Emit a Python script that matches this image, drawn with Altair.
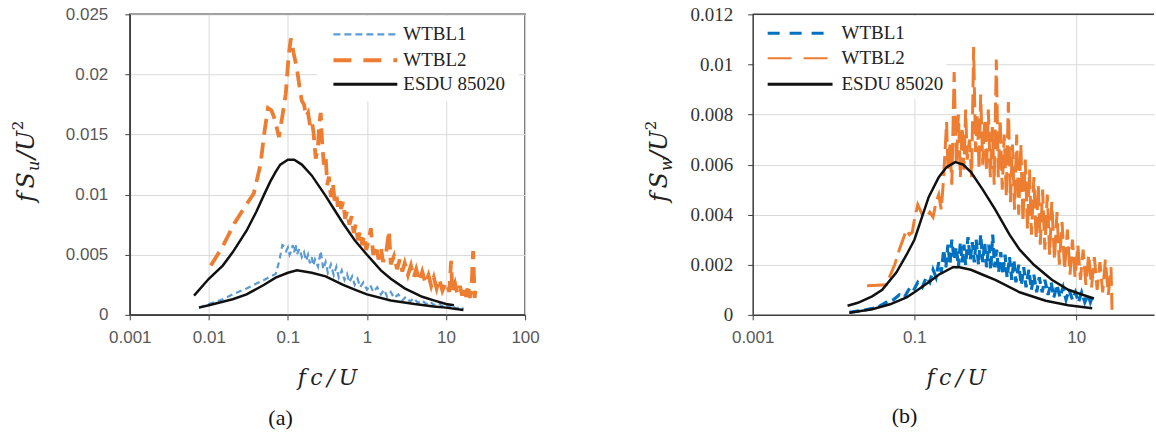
import altair as alt
import pandas as pd

# ---------------- panel (a): fS_u / U^2 ----------------
a_esdu_hi_x = [0.0065, 0.01, 0.015, 0.02, 0.03, 0.04, 0.05, 0.06, 0.07, 0.08, 0.1, 0.12, 0.15, 0.2, 0.3, 0.4,
               0.5, 0.7, 1.0, 1.5, 2.0, 3.0, 5.0, 7.0, 10, 12.6]
a_esdu_hi_y = [0.0016, 0.0030, 0.0041, 0.0052, 0.0070, 0.0086, 0.0100, 0.0111, 0.0119, 0.0125, 0.0129, 0.0129,
               0.0125, 0.0116, 0.0099, 0.0086, 0.0076, 0.0062, 0.0050, 0.0037, 0.0030, 0.0022, 0.0015, 0.0012,
               0.0009, 0.0008]
a_esdu_lo_x = [0.0075, 0.01, 0.02, 0.03, 0.05, 0.07, 0.1, 0.13, 0.2, 0.3, 0.5, 0.7, 1.0, 2.0, 4.0, 7.0, 10, 16.6]
a_esdu_lo_y = [0.0006, 0.0008, 0.0013, 0.0017, 0.0025, 0.0031, 0.0035, 0.0037, 0.0035, 0.0032, 0.0025, 0.0021,
               0.0017, 0.0012, 0.0009, 0.0007, 0.0006, 0.0004]
a_w1_x = [0.0075, 0.01, 0.015, 0.02, 0.03, 0.04, 0.05, 0.06, 0.07, 0.078, 0.085, 0.09, 0.095, 0.10, 0.105, 0.11,
          0.115, 0.12, 0.125, 0.13, 0.14, 0.15, 0.16, 0.17, 0.18, 0.19, 0.20, 0.21, 0.22, 0.24, 0.26, 0.28, 0.30,
          0.32, 0.35, 0.38, 0.41, 0.44, 0.48, 0.52, 0.56, 0.60, 0.65, 0.70, 0.76, 0.82, 0.9, 1.0, 1.1, 1.2, 1.35,
          1.5, 1.65, 1.8, 2.0, 2.2, 2.5, 2.8, 3.1, 3.5, 3.9, 4.4, 5.0, 5.6, 6.3, 7.0, 8.0, 9.0, 10, 11, 12, 13.5,
          15, 16.6]
a_w1_y = [0.0006, 0.0009, 0.0013, 0.0017, 0.0022, 0.0026, 0.0029, 0.0032, 0.0034, 0.0045, 0.0058, 0.0057, 0.0053,
          0.0056, 0.0050, 0.0053, 0.0058, 0.0052, 0.0059, 0.0050, 0.0055, 0.0048, 0.0052, 0.0045, 0.0050, 0.0043,
          0.0048, 0.0041, 0.0046, 0.0040, 0.0053, 0.0038, 0.0044, 0.0035, 0.0042, 0.0033, 0.0040, 0.0031, 0.0037,
          0.0029, 0.0034, 0.0027, 0.0032, 0.0025, 0.0030, 0.0023, 0.0027, 0.0021, 0.0025, 0.0019, 0.0023, 0.0017,
          0.0021, 0.0015, 0.0019, 0.0014, 0.0017, 0.0012, 0.0015, 0.0011, 0.0014, 0.0010, 0.0012, 0.0009, 0.0011,
          0.0008, 0.0010, 0.0007, 0.0009, 0.0006, 0.0008, 0.0005, 0.0007, 0.0005]
a_w2_x = [0.0106, 0.015, 0.021, 0.028, 0.037, 0.045, 0.050, 0.056, 0.062, 0.068, 0.077, 0.085, 0.094, 0.102, 0.109,
          0.118, 0.130, 0.140, 0.150, 0.160, 0.170, 0.180, 0.190, 0.200, 0.210, 0.225, 0.240, 0.250, 0.260, 0.270,
          0.285, 0.300, 0.315, 0.330, 0.350, 0.370, 0.390, 0.410, 0.430, 0.450, 0.470, 0.500, 0.530, 0.560, 0.600,
          0.640, 0.680, 0.720, 0.770, 0.820, 0.870, 0.920, 0.980, 1.05, 1.12, 1.20, 1.30, 1.40, 1.50, 1.60, 1.75,
          1.90, 2.00, 2.2, 2.4, 2.6, 2.8, 3.0, 3.3, 3.6, 3.9, 4.2, 4.6, 5.0, 5.5, 6.0, 6.5, 7.0, 7.6, 8.2, 9.0,
          10, 11, 11.6, 12, 13, 14, 15, 16, 17, 18, 19, 20, 21, 22, 23, 23.5]
a_w2_y = [0.0041, 0.0057, 0.0076, 0.0089, 0.0101, 0.0125, 0.0150, 0.0172, 0.0170, 0.0163, 0.0148, 0.0165, 0.0184,
          0.0215, 0.0230, 0.0218, 0.0205, 0.0190, 0.0178, 0.0175, 0.0165, 0.0168, 0.0158, 0.0162, 0.0153, 0.0130,
          0.0140, 0.0160, 0.0168, 0.0145, 0.0125, 0.0132, 0.0108, 0.0115, 0.0098, 0.0110, 0.0095, 0.0100, 0.0090,
          0.0098, 0.0088, 0.0094, 0.0080, 0.0086, 0.0075, 0.0082, 0.0068, 0.0075, 0.0062, 0.0070, 0.0058, 0.0066,
          0.0054, 0.0062, 0.0072, 0.0050, 0.0058, 0.0046, 0.0056, 0.0044, 0.0052, 0.0070, 0.0042, 0.0049, 0.0038,
          0.0046, 0.0036, 0.0043, 0.0033, 0.0041, 0.0031, 0.0038, 0.0028, 0.0036, 0.0026, 0.0033, 0.0024, 0.0031,
          0.0022, 0.0030, 0.0020, 0.0027, 0.0019, 0.0045, 0.0018, 0.0026, 0.0017, 0.0024, 0.0016, 0.0023, 0.0015,
          0.0025, 0.0014, 0.0022, 0.0053, 0.0014, 0.0020]

# ---------------- panel (b): fS_w / U^2 ----------------
b_esdu_hi_x = [0.0149, 0.02, 0.03, 0.04, 0.06, 0.08, 0.1, 0.15, 0.2, 0.25, 0.32, 0.4, 0.5, 0.7, 1.0, 1.5, 2.0,
               3.0, 5.0, 8.0, 12, 16.6]
b_esdu_hi_y = [0.00036, 0.00048, 0.00074, 0.00100, 0.0017, 0.0024, 0.0030, 0.0047, 0.0055, 0.0059, 0.0061,
               0.0060, 0.0057, 0.0050, 0.0042, 0.0032, 0.0026, 0.0020, 0.0014, 0.0010, 0.0008, 0.00065]
b_esdu_lo_x = [0.0157, 0.03, 0.05, 0.08, 0.1, 0.15, 0.2, 0.3, 0.36, 0.5, 0.7, 1.0, 2.0, 4.2, 8, 15.8]
b_esdu_lo_y = [0.00008, 0.00022, 0.00042, 0.00070, 0.00090, 0.0013, 0.0016, 0.0019, 0.0019, 0.0018, 0.0016,
               0.0014, 0.0009, 0.00056, 0.00038, 0.00026]
b_w1_x = [0.0157, 0.025, 0.035, 0.045, 0.055, 0.065, 0.075, 0.085, 0.095, 0.11, 0.125, 0.14, 0.155, 0.17, 0.185,
          0.20, 0.215, 0.23, 0.245, 0.26, 0.275, 0.29, 0.31, 0.33, 0.35, 0.37, 0.39, 0.41, 0.43, 0.46, 0.49, 0.52,
          0.55, 0.58, 0.62, 0.66, 0.70, 0.74, 0.78, 0.83, 0.88, 0.93, 0.98, 1.04, 1.10, 1.17, 1.24, 1.32, 1.40,
          1.5, 1.6, 1.7, 1.8, 1.95, 2.1, 2.25, 2.4, 2.6, 2.8, 3.0, 3.25, 3.5, 3.8, 4.1, 4.5, 4.9, 5.3, 5.8, 6.3,
          6.9, 7.5, 8.2, 9.0, 9.8, 10.7, 11.7, 12.8, 14, 15, 15.8]
b_w1_y = [0.0001, 0.0002, 0.0003, 0.0005, 0.0006, 0.0008, 0.0007, 0.0010, 0.0009, 0.0013, 0.0011, 0.0015, 0.0013,
          0.0018, 0.0015, 0.0021, 0.0017, 0.0026, 0.0019, 0.0028, 0.0020, 0.0030, 0.0022, 0.0027, 0.0019, 0.0029,
          0.0021, 0.0028, 0.0020, 0.0031, 0.0022, 0.0029, 0.0021, 0.0030, 0.0020, 0.0032, 0.0021, 0.0029, 0.0019,
          0.0028, 0.0018, 0.0032, 0.0019, 0.0026, 0.0017, 0.0025, 0.0016, 0.0024, 0.0015, 0.0023, 0.0014, 0.0022,
          0.0013, 0.0020, 0.0012, 0.0019, 0.0011, 0.0018, 0.0010, 0.0016, 0.0009, 0.0015, 0.0009, 0.0014, 0.0008,
          0.0013, 0.0007, 0.0012, 0.0007, 0.0011, 0.0006, 0.0010, 0.0006, 0.0009, 0.0005, 0.0009, 0.0005, 0.0008,
          0.0005, 0.0007]
b_w2_x = [0.026, 0.035, 0.045, 0.049, 0.057, 0.065, 0.072, 0.08, 0.087, 0.094, 0.10, 0.11, 0.125, 0.14, 0.155,
          0.17, 0.185, 0.20, 0.215, 0.23, 0.25, 0.26, 0.275, 0.29, 0.31, 0.33, 0.35, 0.37, 0.39, 0.41, 0.43, 0.45,
          0.48, 0.51, 0.54, 0.57, 0.60, 0.63, 0.66, 0.70, 0.74, 0.78, 0.82, 0.87, 0.92, 0.97, 1.03, 1.09, 1.15,
          1.22, 1.29, 1.37, 1.45, 1.54, 1.63, 1.73, 1.84, 1.95, 2.07, 2.2, 2.35, 2.5, 2.65, 2.8, 3.0, 3.2, 3.4,
          3.6, 3.85, 4.1, 4.4, 4.7, 5.0, 5.4, 5.8, 6.2, 6.7, 7.2, 7.8, 8.4, 9.0, 9.7, 10.5, 11.3, 12.2, 13.2,
          14.3, 15.5, 16.8, 18.2, 19.7, 21.3, 23, 25, 27, 27.8]
b_w2_y = [0.00116, 0.00118, 0.0012, 0.0015, 0.0020, 0.0026, 0.0030, 0.0034, 0.0032, 0.0033, 0.0038, 0.0044, 0.0040,
          0.0039, 0.0041, 0.0039, 0.0045, 0.0048, 0.0042, 0.0055, 0.0077, 0.0058, 0.0068, 0.0052, 0.0097, 0.0060,
          0.0080, 0.0055, 0.0075, 0.0058, 0.0082, 0.0062, 0.0070, 0.0055, 0.0107, 0.0065, 0.0080, 0.0058, 0.0088,
          0.0060, 0.0078, 0.0057, 0.0082, 0.0055, 0.0075, 0.0052, 0.0102, 0.0055, 0.0078, 0.0050, 0.0072, 0.0047,
          0.0085, 0.0045, 0.0068, 0.0042, 0.0072, 0.0040, 0.0068, 0.0037, 0.0062, 0.0034, 0.0058, 0.0032, 0.0055,
          0.0030, 0.0052, 0.0028, 0.0050, 0.0026, 0.0048, 0.0024, 0.0045, 0.0022, 0.0041, 0.0020, 0.0037, 0.0018,
          0.0034, 0.0016, 0.0030, 0.0015, 0.0028, 0.0014, 0.0026, 0.0012, 0.0024, 0.0011, 0.0023, 0.0010, 0.0021,
          0.0009, 0.0022, 0.0008, 0.0019, 0.0002]

# ticks / labels
a_xticks = [0.001, 0.01, 0.1, 1, 10, 100]
a_yticks = [0, 0.005, 0.01, 0.015, 0.02, 0.025]
b_xticks = [0.001, 0.1, 10]
b_yticks = [0, 0.002, 0.004, 0.006, 0.008, 0.01, 0.012]
legend_names = ["WTBL1", "WTBL2", "ESDU 85020"]

BLUE_A = "#5B9BD5"
BLUE_B = "#0070C0"
ORANGE = "#ED7D31"
BLACK = "#111111"
AXC = "#404040"
SANS = "Liberation Sans"
SERIF = "Liberation Serif"
MATH = "DejaVu Serif"

W_A, W_B, H = 396, 402, 301


def df(xs, ys):
    return pd.DataFrame({"x": xs, "y": ys})


def encs(xdom, xticks, ydom, yticks, ylab_font, ylab_size, ylab_color, ylab_pad):
    x = alt.X("x:Q", title="",
              scale=alt.Scale(type="log", domain=xdom, nice=False),
              axis=alt.Axis(values=xticks, format="~g", grid=True, gridColor="#D9D9D9", gridWidth=1,
                            domainColor=AXC, domainWidth=1.5, tickColor=AXC, tickSize=5, tickWidth=1,
                            labelPadding=10, labelFont=SANS, labelFontSize=17, labelColor="#595959",
                            labelFlush=False, labelOverlap=False))
    y = alt.Y("y:Q", title="",
              scale=alt.Scale(domain=ydom, nice=False, zero=True),
              axis=alt.Axis(values=yticks, format="~g", grid=True, gridColor="#D9D9D9", gridWidth=1,
                            domainColor=AXC, domainWidth=1.5, tickColor=AXC, tickSize=5, tickWidth=1,
                            labelPadding=ylab_pad, labelFont=ylab_font, labelFontSize=ylab_size,
                            labelColor=ylab_color, labelFlush=False, labelOverlap=False))
    return x, y


def series(data, x, y, color, width, dash=None):
    if dash:
        m = alt.Chart(data).mark_line(color=color, strokeWidth=width, strokeDash=dash, clip=True)
    else:
        m = alt.Chart(data).mark_line(color=color, strokeWidth=width, clip=True)
    return m.encode(x=x, y=y)


one = pd.DataFrame({"k": [0]})


def txt(text, x, y, font, size, color="#222222", align="left", baseline="middle", angle=0, style="normal"):
    kw = dict(text=text, font=font, fontSize=size, color=color, align=align, baseline=baseline,
              fontStyle=style)
    if angle:
        kw["angle"] = angle
    return alt.Chart(one).mark_text(**kw).encode(x=alt.value(x), y=alt.value(y))


def hrule(x1, x2, y, color, width, dash=None):
    kw = dict(color=color, strokeWidth=width)
    if dash:
        kw["strokeDash"] = dash
    return alt.Chart(one).mark_rule(**kw).encode(x=alt.value(x1), x2=alt.value(x2), y=alt.value(y))


def box(x1, x2, y1, y2, fill="white", opacity=1.0):
    return alt.Chart(one).mark_rect(fill=fill, opacity=opacity).encode(
        x=alt.value(x1), x2=alt.value(x2), y=alt.value(y1), y2=alt.value(y2))


def ytitle(sub, xb, ybot):
    # rotated composite title  f S_sub / U^2
    return [
        txt("f\u2009S", xb, ybot, MATH, 24, "#222222", "left", "alphabetic", 270, "italic"),
        txt(sub, xb + 5, ybot - 31, MATH, 16, "#222222", "left", "alphabetic", 270, "italic"),
        txt("/U", xb, ybot - 43, MATH, 24, "#222222", "left", "alphabetic", 270, "italic"),
        txt("2", xb - 11, ybot - 72, MATH, 15, "#222222", "left", "alphabetic", 270, "normal"),
    ]


# ---------------- build panel (a) ----------------
xa, ya = encs([0.001, 100], a_xticks, [0, 0.025], a_yticks, SANS, 17, "#595959", 17)
layers_a = [
    box(-129, 1156 - 129, -13, 420, "white", 0.0),
    series(df(a_w1_x, a_w1_y), xa, ya, BLUE_A, 2.2, [6, 4]),
    series(df(a_w2_x, a_w2_y), xa, ya, ORANGE, 3.8, [16, 8]),
    series(df(a_esdu_hi_x, a_esdu_hi_y), xa, ya, BLACK, 2.5),
    series(df(a_esdu_lo_x, a_esdu_lo_y), xa, ya, BLACK, 2.5),
    box(188, 390, 2, 87),
    hrule(204, 268, 20, BLUE_A, 2.2, [7, 4]),
    hrule(204, 268, 46, ORANGE, 4, [18, 12]),
    hrule(204, 268, 70, BLACK, 3),
    txt(legend_names[0], 274, 20, SERIF, 19),
    txt(legend_names[1], 274, 46, SERIF, 19),
    txt(legend_names[2], 274, 70, SERIF, 19),
    txt("f\u2009c\u2009/\u2009U", W_A / 2, 364, MATH, 22, "#222222", "center", "middle", 0, "italic"),
    txt("(a)", 151, 404, SERIF, 22, "#111111", "center", "middle"),
] + ytitle("u", -96, 188)
panel_a = alt.layer(*layers_a).properties(
    width=W_A, height=H, view=alt.ViewBackground(stroke=AXC, strokeWidth=1.5))

# ---------------- build panel (b) ----------------
xb_max = 10 ** (W_B / 81.0 - 3)
xb, yb = encs([0.001, xb_max], b_xticks, [0, 0.012], b_yticks, SERIF, 19, "#333333", 15)
layers_b = [
    series(df(b_w1_x, b_w1_y), xb, yb, BLUE_B, 3.2, [10, 5]),
    series(df(b_w2_x, b_w2_y), xb, yb, ORANGE, 3.0, [20, 7]),
    series(df(b_esdu_hi_x, b_esdu_hi_y), xb, yb, BLACK, 2.5),
    series(df(b_esdu_lo_x, b_esdu_lo_y), xb, yb, BLACK, 2.5),
    hrule(0, W_B, 0, AXC, 1.5),
    box(2, 194, 2, 85),
    hrule(15, 80, 19, BLUE_B, 3, [12, 10]),
    hrule(15, 80, 44, ORANGE, 2.2, [24, 12]),
    hrule(15, 80, 70, BLACK, 3),
    txt(legend_names[0], 89, 19, SERIF, 19),
    txt(legend_names[1], 89, 44, SERIF, 19),
    txt(legend_names[2], 89, 70, SERIF, 19),
    txt("f\u2009c\u2009/\u2009U", 204, 364, MATH, 22, "#222222", "center", "middle", 0, "italic"),
    txt("(b)", 152, 402, SERIF, 22, "#111111", "center", "middle"),
] + ytitle("w", -86, 188)
panel_b = alt.layer(*layers_b).properties(
    width=W_B, height=H, view=alt.ViewBackground(stroke="transparent"))

chart = alt.hconcat(panel_a, panel_b, spacing=228, bounds="flush").properties(
    padding=0, background="white")

chart.save("out.html", embed_options={"renderer": "svg", "actions": False})
